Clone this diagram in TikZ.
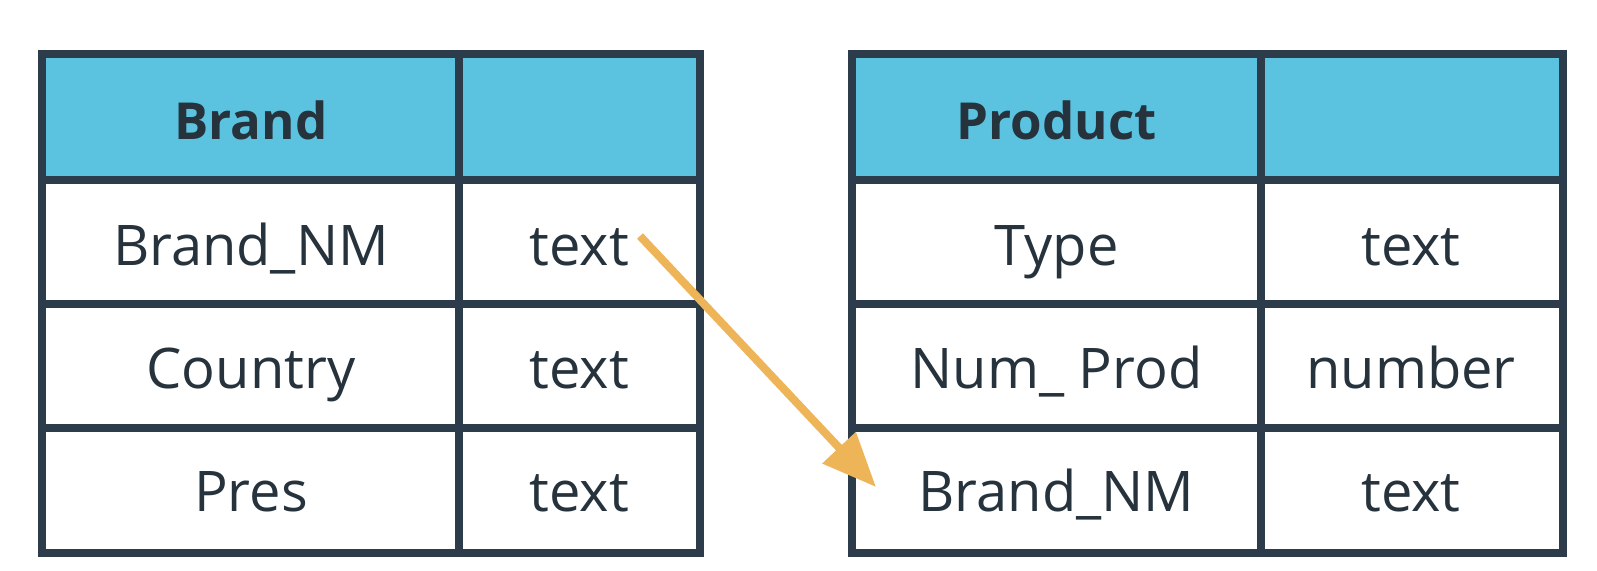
\documentclass[tikz,border=0pt]{standalone}
\usepackage{fontspec}
\setmainfont{Open Sans}
\usetikzlibrary{arrows.meta}
\definecolor{gridline}{RGB}{45,60,74}
\definecolor{headfill}{RGB}{91,195,224}
\definecolor{inkdark}{RGB}{38,50,60}
\definecolor{linkarrow}{RGB}{238,180,88}
\begin{document}
\begin{tikzpicture}[x=0.5pt,y=-0.5pt,
  cellframe/.style={draw=gridline,line width=4pt,line join=miter},
  headtext/.style={font=\fontsize{25.5}{30}\selectfont\bfseries,text=inkdark,anchor=base},
  celltext/.style={font=\fontsize{28}{33}\selectfont,text=inkdark,anchor=base},
  fklink/.style={draw=linkarrow,line width=4pt,-{Triangle[length=27pt,width=22pt]}}]
\useasboundingbox (0,0) rectangle (1597,570);
\fill[white] (0,0) rectangle (1597,570);

% Brand table
\fill[headfill] (42,54) rectangle (700,180);
\draw[cellframe] (42,54) rectangle (700,553);
\draw[cellframe] (459,54) -- (459,553);
\foreach \yy in {180,304,428} \draw[cellframe] (42,\yy) -- (700,\yy);
\node[headtext] (bhead) at (251,139) {Brand};
\node[celltext] (bname1) at (251,265) {Brand\_NM};
\node[celltext] (btype1) at (579.5,265) {text};
\node[celltext] (bname2) at (251,388) {Country};
\node[celltext] (btype2) at (579.5,388) {text};
\node[celltext] (bname3) at (251,511) {Pres};
\node[celltext] (btype3) at (579.5,511) {text};

% Product table
\fill[headfill] (852,54) rectangle (1563,180);
\draw[cellframe] (852,54) rectangle (1563,553);
\draw[cellframe] (1261,54) -- (1261,553);
\foreach \yy in {180,304,428} \draw[cellframe] (852,\yy) -- (1563,\yy);
\node[headtext] (phead) at (1056.5,139) {Product};
\node[celltext] (pname1) at (1056.5,265) {Type};
\node[celltext] (ptype1) at (1411,265) {text};
\node[celltext] (pname2) at (1056.5,388) {Num\_ Prod};
\node[celltext] (ptype2) at (1411,388) {number};
\node[celltext] (pname3) at (1056.5,511) {Brand\_NM};
\node[celltext] (ptype3) at (1411,511) {text};

% foreign key link
\coordinate (fkfrom) at (640,236);
\coordinate (fkto) at (876,487);
\draw[fklink] (fkfrom) -- (fkto);
\end{tikzpicture}
\end{document}
